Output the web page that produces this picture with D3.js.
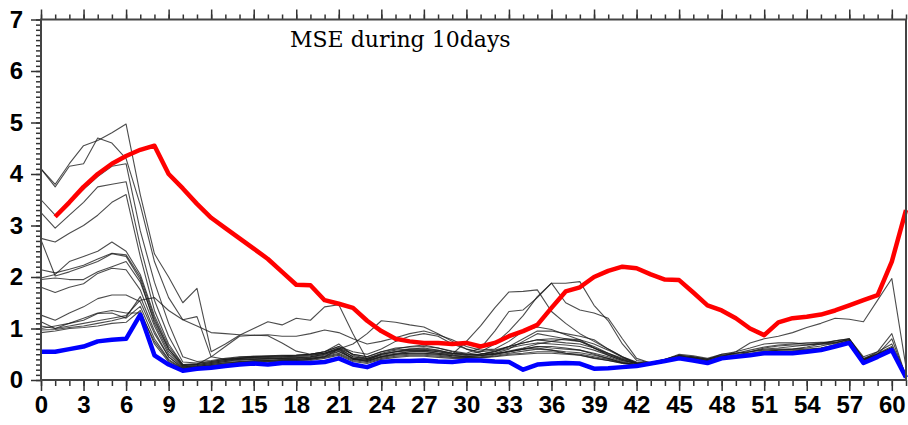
<!DOCTYPE html>
<html>
<head>
<meta charset="utf-8">
<script src="https://cdn.jsdelivr.net/npm/d3@7"></script>
<style>
  html, body { margin: 0; padding: 0; background: #fff; }
  svg { display: block; }
</style>
</head>
<body>
<div id="chart"></div>
<script>
// days 0..61
var days = d3.range(0, 62);

var xTickLabels = [0, 3, 6, 9, 12, 15, 18, 21, 24, 27, 30, 33, 36, 39, 42, 45, 48, 51, 54, 57, 60];
var yTickLabels = [0, 1, 2, 3, 4, 5, 6, 7];
var title = "MSE during 10days";

// thick red line (starts at day 1)
var redMse = [null, 3.17, 3.45, 3.75, 4.0, 4.2, 4.35, 4.47, 4.55, 4.0,
  3.72, 3.42, 3.15, 2.95, 2.75, 2.55, 2.35, 2.1, 1.85, 1.84,
  1.55, 1.48, 1.4, 1.15, 0.95, 0.8, 0.75, 0.72, 0.72, 0.7,
  0.72, 0.65, 0.72, 0.85, 0.95, 1.07, 1.4, 1.72, 1.8, 2.0,
  2.12, 2.2, 2.17, 2.05, 1.95, 1.94, 1.7, 1.45, 1.35, 1.2,
  1.0, 0.87, 1.12, 1.2, 1.23, 1.27, 1.35, 1.45, 1.55, 1.65,
  2.3, 3.3];

// thick blue line
var blueMse = [0.55, 0.55, 0.6, 0.65, 0.75, 0.78, 0.8, 1.27, 0.48, 0.3,
  0.18, 0.22, 0.24, 0.27, 0.3, 0.32, 0.3, 0.33, 0.33, 0.33,
  0.35, 0.42, 0.3, 0.25, 0.35, 0.37, 0.37, 0.38, 0.36, 0.35,
  0.38, 0.38, 0.36, 0.35, 0.2, 0.3, 0.32, 0.33, 0.32, 0.22,
  0.23, 0.25, 0.27, 0.32, 0.37, 0.42, 0.38, 0.33, 0.42, 0.45,
  0.48, 0.52, 0.52, 0.52, 0.55, 0.58, 0.65, 0.72, 0.33, 0.45,
  0.58, 0.05];

// thin black member lines
var member01 = [4.1, 3.8, 4.2, 4.55, 4.65, 4.8, 4.97, 3.6, 2.45, 2.0,
  1.5, 1.78, 0.55, 0.7, 0.87, 1.0, 1.13, 1.07, 1.2, 1.16,
  1.42, 1.46, 0.9, 0.39, 0.5, 0.55, 0.6, 0.62, 0.58, 0.52,
  0.5, 0.48, 0.52, 0.55, 0.6, 0.62, 0.58, 0.52, 0.48, 0.42,
  0.38, 0.33, 0.3, 0.33, 0.4, 0.5, 0.47, 0.42, 0.5, 0.52,
  0.55, 0.58, 0.6, 0.6, 0.62, 0.66, 0.72, 0.8, 0.45, 0.55,
  0.7, 0.1];
var member02 = [4.1, 3.75, 4.15, 4.2, 4.7, 4.6, 4.3, 3.4, 2.3, 1.6,
  1.17, 1.05, 0.92, 0.9, 0.88, 0.87, 0.88, 0.85, 0.85, 0.9,
  0.97, 0.92, 0.8, 0.7, 0.75, 0.82, 0.9, 0.95, 0.88, 0.78,
  0.65, 0.58, 0.6, 0.75, 0.95, 1.03, 0.98, 0.88, 0.78, 0.62,
  0.48, 0.38, 0.32, 0.33, 0.4, 0.48, 0.45, 0.4, 0.48, 0.52,
  0.55, 0.6, 0.62, 0.65, 0.68, 0.72, 0.76, 0.8, 0.42, 0.52,
  0.65, 0.08];
var member03 = [3.5, 3.2, 3.45, 3.7, 3.95, 4.15, 4.2, 2.9, 1.9, 1.1,
  0.45, 0.36, 0.38, 0.42, 0.45, 0.46, 0.47, 0.48, 0.48, 0.5,
  0.55, 0.65, 0.5, 0.45, 0.55, 0.62, 0.64, 0.65, 0.62, 0.56,
  0.52, 0.62, 0.95, 1.33, 1.36, 1.6, 1.88, 1.88, 1.91, 1.45,
  1.15, 0.7, 0.38, 0.34, 0.4, 0.48, 0.45, 0.4, 0.47, 0.5,
  0.52, 0.56, 0.58, 0.58, 0.6, 0.62, 0.68, 0.75, 0.4, 0.5,
  0.62, 0.08];
var member04 = [3.25, 2.95, 3.2, 3.45, 3.75, 3.8, 3.85, 2.6, 1.55, 0.85,
  0.35, 0.33, 0.36, 0.4, 0.42, 0.44, 0.45, 0.45, 0.46, 0.48,
  0.52, 0.6, 0.45, 0.42, 0.5, 0.55, 0.57, 0.58, 0.55, 0.52,
  0.5, 0.55, 0.7, 0.95, 1.25, 1.62, 1.88, 1.5, 1.36, 1.3,
  1.2, 0.8, 0.42, 0.33, 0.38, 0.46, 0.43, 0.38, 0.45, 0.48,
  0.5, 0.53, 0.55, 0.55, 0.58, 0.6, 0.66, 0.74, 0.38, 0.48,
  0.6, 0.07];
var member05 = [2.75, 2.68, 2.85, 3.0, 3.2, 3.45, 3.6, 2.4, 1.35, 0.7,
  0.3, 0.3, 0.34, 0.38, 0.4, 0.42, 0.42, 0.43, 0.44, 0.45,
  0.5, 0.58, 0.42, 0.4, 0.48, 0.52, 0.55, 0.55, 0.52, 0.5,
  0.75, 1.05, 1.4, 1.71, 1.72, 1.75, 1.33, 1.1, 0.9, 0.75,
  0.6, 0.45, 0.35, 0.32, 0.37, 0.45, 0.42, 0.37, 0.44, 0.47,
  0.5, 0.52, 0.54, 0.55, 0.57, 0.6, 0.65, 0.73, 0.37, 0.47,
  0.6, 0.07];
var member06 = [2.72, 2.02, 2.1, 2.2, 2.3, 2.45, 2.4, 1.95, 1.1, 0.55,
  0.26, 0.28, 0.32, 0.36, 0.4, 0.4, 0.42, 0.42, 0.43, 0.45,
  0.5, 0.6, 0.4, 0.38, 0.45, 0.5, 0.52, 0.52, 0.5, 0.47,
  0.45, 0.47, 0.52, 0.6, 0.75, 0.9, 0.85, 0.8, 0.75, 0.62,
  0.5, 0.4, 0.33, 0.32, 0.37, 0.44, 0.41, 0.36, 0.43, 0.46,
  0.49, 0.52, 0.53, 0.54, 0.56, 0.6, 0.65, 0.72, 0.36, 0.46,
  0.6, 0.06];
var member07 = [2.14, 2.08, 2.15, 2.23, 2.35, 2.46, 2.43, 2.0, 1.2, 0.6,
  0.28, 0.3, 0.45, 0.65, 0.85, 0.87, 0.86, 0.72, 0.56, 0.5,
  0.52, 0.62, 0.5, 0.45, 0.55, 0.6, 0.65, 0.68, 0.62, 0.55,
  0.5, 0.5, 0.55, 0.65, 0.8, 0.95, 0.95, 0.9, 0.85, 0.78,
  0.6, 0.45, 0.33, 0.33, 0.38, 0.46, 0.44, 0.4, 0.5, 0.55,
  0.62, 0.7, 0.72, 0.72, 0.7, 0.7, 0.72, 0.78, 0.4, 0.5,
  0.62, 0.07];
var member08 = [1.98, 2.05, 2.3, 2.4, 2.5, 2.68, 2.5, 2.05, 1.25, 0.65,
  0.3, 0.32, 0.36, 0.4, 0.44, 0.46, 0.46, 0.47, 0.48, 0.5,
  0.55, 0.7, 0.48, 0.42, 0.52, 0.58, 0.6, 0.6, 0.57, 0.52,
  0.48, 0.5, 0.56, 0.65, 0.72, 0.78, 0.75, 0.72, 0.7, 0.62,
  0.52, 0.42, 0.34, 0.32, 0.36, 0.44, 0.41, 0.36, 0.43, 0.46,
  0.5, 0.54, 0.58, 0.6, 0.64, 0.7, 0.76, 0.8, 0.4, 0.55,
  0.9, 0.06];
var member09 = [1.95, 1.98, 1.95, 1.95, 2.1, 2.2, 2.3, 1.9, 1.15, 0.6,
  0.28, 0.3, 0.34, 0.38, 0.42, 0.44, 0.44, 0.45, 0.46, 0.47,
  0.52, 0.62, 0.45, 0.4, 0.5, 0.55, 0.58, 0.58, 0.55, 0.5,
  0.48, 0.5, 0.55, 0.62, 0.68, 0.72, 0.7, 0.68, 0.65, 0.58,
  0.48, 0.38, 0.32, 0.32, 0.37, 0.45, 0.42, 0.37, 0.44, 0.47,
  0.5, 0.53, 0.55, 0.56, 0.58, 0.62, 0.68, 0.76, 0.38, 0.5,
  0.8, 0.06];
var member10 = [1.8, 1.7, 1.8, 1.87, 2.07, 2.17, 2.14, 1.75, 1.05, 0.5,
  0.25, 0.28, 0.32, 0.36, 0.38, 0.4, 0.4, 0.42, 0.42, 0.44,
  0.48, 0.56, 0.42, 0.38, 0.46, 0.5, 0.52, 0.52, 0.5, 0.47,
  0.45, 0.48, 0.5, 0.55, 0.6, 0.65, 0.62, 0.6, 0.58, 0.52,
  0.45, 0.36, 0.3, 0.31, 0.36, 0.44, 0.4, 0.35, 0.43, 0.46,
  0.49, 0.52, 0.54, 0.55, 0.57, 0.6, 0.66, 0.74, 0.36, 0.48,
  0.62, 0.06];
var member11 = [1.26, 1.16, 1.3, 1.42, 1.58, 1.65, 1.65, 1.52, 0.9, 0.45,
  0.22, 0.26, 0.3, 0.34, 0.36, 0.38, 0.38, 0.4, 0.4, 0.42,
  0.45, 0.52, 0.4, 0.36, 0.44, 0.48, 0.5, 0.5, 0.48, 0.45,
  0.44, 0.45, 0.48, 0.52, 0.56, 0.6, 0.58, 0.55, 0.53, 0.48,
  0.42, 0.34, 0.29, 0.3, 0.35, 0.43, 0.39, 0.34, 0.42, 0.45,
  0.48, 0.51, 0.53, 0.54, 0.56, 0.6, 0.66, 0.74, 0.35, 0.47,
  0.6, 0.05];
var member12 = [1.13, 1.0, 1.1, 1.16, 1.29, 1.3, 1.2, 1.43, 0.8, 0.4,
  0.22, 0.25, 0.28, 0.32, 0.35, 0.36, 0.37, 0.38, 0.38, 0.4,
  0.44, 0.5, 0.38, 0.34, 0.42, 0.46, 0.48, 0.48, 0.46, 0.44,
  0.43, 0.44, 0.46, 0.5, 0.52, 0.55, 0.55, 0.52, 0.5, 0.45,
  0.4, 0.33, 0.29, 0.3, 0.35, 0.42, 0.38, 0.34, 0.42, 0.45,
  0.48, 0.52, 0.53, 0.53, 0.55, 0.59, 0.65, 0.73, 0.35, 0.46,
  0.6, 0.05];
var member13 = [1.0, 1.05, 1.1, 1.2, 1.3, 1.35, 1.3, 1.3, 0.75, 0.38,
  0.21, 0.24, 0.27, 0.3, 0.33, 0.35, 0.35, 0.37, 0.37, 0.38,
  0.42, 0.48, 0.36, 0.32, 0.4, 0.44, 0.46, 0.46, 0.44, 0.42,
  0.42, 0.43, 0.45, 0.48, 0.5, 0.52, 0.52, 0.5, 0.48, 0.43,
  0.38, 0.32, 0.28, 0.3, 0.36, 0.43, 0.4, 0.35, 0.43, 0.46,
  0.5, 0.53, 0.55, 0.55, 0.56, 0.6, 0.67, 0.75, 0.36, 0.47,
  0.6, 0.05];
var member14 = [0.97, 0.98, 1.02, 1.05, 1.1, 1.15, 1.22, 1.62, 0.95, 0.45,
  0.24, 0.26, 0.3, 0.33, 0.35, 0.37, 0.38, 0.39, 0.4, 0.42,
  0.46, 0.55, 0.42, 0.36, 0.45, 0.5, 0.55, 0.56, 0.52, 0.48,
  0.46, 0.47, 0.5, 0.56, 0.62, 0.7, 0.75, 0.8, 0.78, 0.7,
  0.58, 0.44, 0.32, 0.3, 0.36, 0.44, 0.41, 0.36, 0.44, 0.55,
  0.72, 0.8, 0.85, 0.92, 1.02, 1.1, 1.2, 1.18, 1.13, 1.55,
  1.97, 0.25];
var member15 = [1.05, 1.0, 1.05, 1.1, 1.15, 1.2, 1.25, 1.55, 1.6, 1.35,
  1.17, 1.23, 0.45, 0.4, 0.42, 0.45, 0.46, 0.47, 0.48, 0.5,
  0.55, 0.65, 0.55, 0.5, 0.6, 0.75, 0.85, 0.9, 0.85, 0.7,
  0.6, 0.55, 0.58, 0.65, 0.72, 0.78, 0.8, 0.78, 0.75, 0.65,
  0.52, 0.4, 0.31, 0.31, 0.37, 0.45, 0.42, 0.38, 0.46, 0.52,
  0.58, 0.64, 0.68, 0.7, 0.72, 0.73, 0.73, 0.78, 0.4, 0.5,
  0.62, 0.07];
var member16 = [0.92, 0.95, 1.0, 1.02, 1.05, 1.1, 1.12, 1.35, 0.7, 0.35,
  0.2, 0.24, 0.28, 0.3, 0.33, 0.35, 0.36, 0.37, 0.38, 0.4,
  0.45, 0.6, 0.7, 0.9, 1.15, 1.12, 1.07, 1.03, 0.9, 0.75,
  0.6, 0.52, 0.5, 0.55, 0.6, 0.65, 0.65, 0.62, 0.58, 0.5,
  0.42, 0.34, 0.29, 0.3, 0.35, 0.43, 0.4, 0.35, 0.43, 0.47,
  0.55, 0.62, 0.66, 0.68, 0.68, 0.7, 0.7, 0.76, 0.38, 0.5,
  0.62, 0.06];

var members = [member01, member02, member03, member04, member05, member06, member07, member08,
  member09, member10, member11, member12, member13, member14, member15, member16];

var svgWidth = 908
var svgHeight = 425

var margin = { top: 19.5, right: 2, bottom: 45, left: 41 };

var xScale = d3.scaleLinear()
    .domain([0, 61])
    .range([margin.left, svgWidth - margin.right]);

var yScale = d3.scaleLinear()
    .domain([0, 7])
    .range([svgHeight - margin.bottom, margin.top]);

var svg = d3.select("#chart")
    .append("svg")
    .attr("width", svgWidth)
    .attr("height", svgHeight)
    .style("background", "#fff");

var line = d3.line()
    .defined(d => d[1] != null)
    .x(d => xScale(d[0]))
    .y(d => yScale(d[1]));

var pairs = arr => days.map((d, i) => [d, arr[i]]);

// black ensemble lines
svg.append("g")
    .selectAll("path")
    .data(members)
    .enter()
    .append("path")
    .attr("d", m => line(pairs(m)))
    .attr("fill", "none")
    .attr("stroke", "#1a1a1a")
    .attr("stroke-opacity", 0.78)
    .attr("stroke-width", 1.1)
    .attr("stroke-linejoin", "round");

svg.append("path")
    .attr("d", line(pairs(redMse)))
    .attr("fill", "none")
    .attr("stroke", "#ff0000")
    .attr("stroke-width", 4.5)
    .attr("stroke-linejoin", "round");

svg.append("path")
    .attr("d", line(pairs(blueMse)))
    .attr("fill", "none")
    .attr("stroke", "#0000ff")
    .attr("stroke-width", 4.5)
    .attr("stroke-linejoin", "round");

// axes: minor + major ticks on all four sides
var x0 = xScale.range()[0], x1 = xScale.range()[1];
var y0 = yScale.range()[0], y1 = yScale.range()[1];
var minorX = d3.range(0, 62, 1);
var minorY = d3.range(0, 70.5, 1).map(v => v / 10);

function styleAxis(g) {
    g.select(".domain").remove();
    g.selectAll("line").attr("stroke", "#333").attr("stroke-width", 1.5);
}

svg.append("g").attr("transform", `translate(0,${y0})`)
    .call(d3.axisBottom(xScale).tickValues(minorX).tickSize(6).tickFormat(""))
    .call(styleAxis);
svg.append("g").attr("transform", `translate(0,${y0})`)
    .call(d3.axisBottom(xScale).tickValues(xTickLabels).tickSize(11).tickPadding(5).tickFormat(d3.format("d")))
    .call(styleAxis)
    .selectAll("text")
    .attr("fill", "#000")
    .style("font", "bold 24px 'Liberation Sans', Arial, sans-serif");

svg.append("g").attr("transform", `translate(0,${y1})`)
    .call(d3.axisTop(xScale).tickValues(minorX).tickSize(5).tickFormat(""))
    .call(styleAxis);
svg.append("g").attr("transform", `translate(0,${y1})`)
    .call(d3.axisTop(xScale).tickValues(xTickLabels).tickSize(10).tickFormat(""))
    .call(styleAxis);

svg.append("g").attr("transform", `translate(${x0},0)`)
    .call(d3.axisLeft(yScale).tickValues(minorY).tickSize(5).tickFormat(""))
    .call(styleAxis);
svg.append("g").attr("transform", `translate(${x0},0)`)
    .call(d3.axisLeft(yScale).tickValues(yTickLabels).tickSize(10).tickPadding(8).tickFormat(d3.format("d")))
    .call(styleAxis)
    .selectAll("text")
    .attr("fill", "#000")
    .style("font", "bold 24px 'Liberation Sans', Arial, sans-serif");

// frame
svg.append("rect")
    .attr("x", x0)
    .attr("y", y1)
    .attr("width", x1 - x0)
    .attr("height", y0 - y1)
    .attr("fill", "none")
    .attr("stroke", "#444")
    .attr("stroke-width", 2);

svg.append("text")
    .attr("x", 290)
    .attr("y", 47)
    .attr("fill", "#000")
    .style("font", "22px 'DejaVu Serif', serif")
    .text(title);
</script>
</body>
</html>
